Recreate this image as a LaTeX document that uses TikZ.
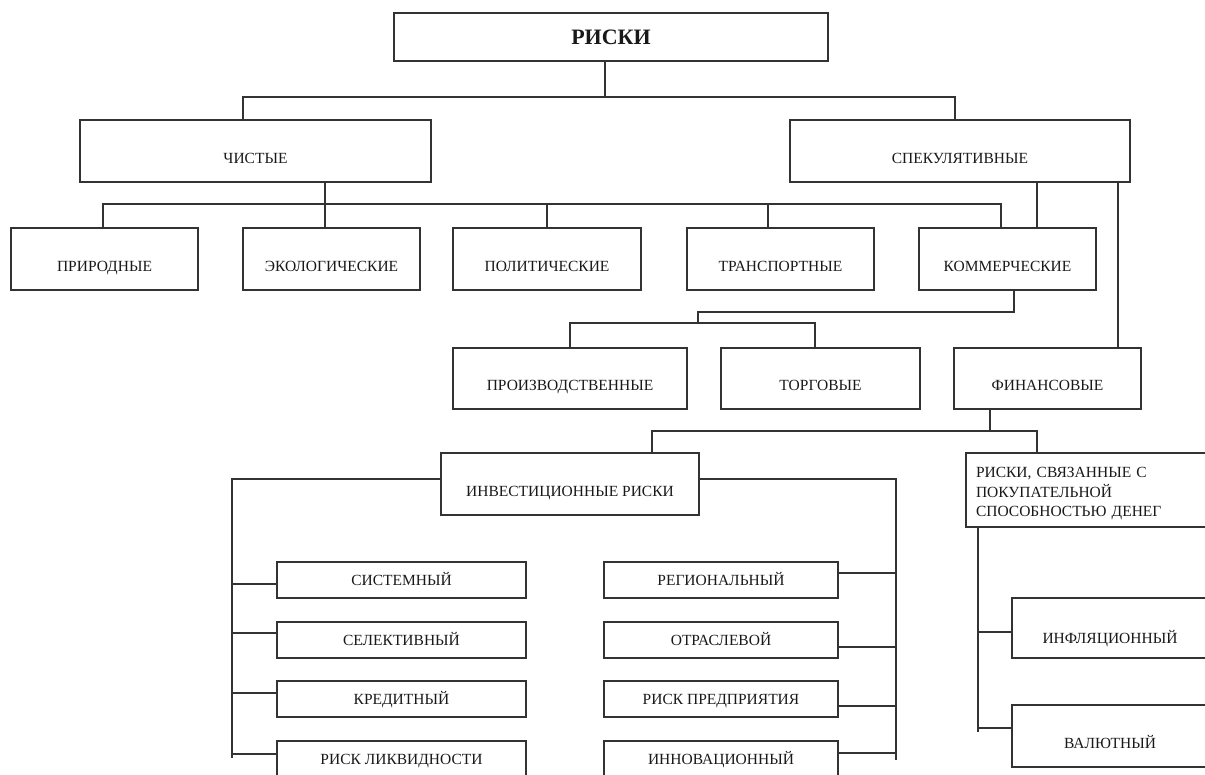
\documentclass[tikz,border=0pt]{standalone}
\usepackage{fontspec}
\setmainfont{Liberation Serif}
\begin{document}
\begin{tikzpicture}[x=1pt,y=-1pt,
  box/.style={draw=black!80, line width=1.4pt, rectangle, inner sep=0pt,
    font=\fontsize{15.5}{19}\selectfont, text=black!90},
  tallbox/.style={box, minimum height=62pt, text height=24pt, text depth=0pt},
  smallbox/.style={box, minimum height=36pt, text height=10.3pt, text depth=0pt},
  conn/.style={draw=black!80, line width=1.6pt}
]
\useasboundingbox (0,0) rectangle (1205,774);
\clip (0,0) rectangle (1205,774);

% boxes
\node[box, minimum width=434pt, minimum height=48pt,
  font=\fontsize{22}{26}\selectfont\bfseries, text height=14.6pt, text depth=0pt] (R) at (611,37) {РИСКИ};
\node[tallbox, minimum width=351pt] (ch) at (255.5,151) {ЧИСТЫЕ};
\node[tallbox, minimum width=340pt] (sp) at (960,151) {СПЕКУЛЯТИВНЫЕ};

\node[tallbox, minimum width=187pt] (pr) at (104.5,259) {ПРИРОДНЫЕ};
\node[tallbox, minimum width=177pt] (ek) at (331.5,259) {ЭКОЛОГИЧЕСКИЕ};
\node[tallbox, minimum width=188pt] (po) at (547,259) {ПОЛИТИЧЕСКИЕ};
\node[tallbox, minimum width=187pt] (tr) at (780.5,259) {ТРАНСПОРТНЫЕ};
\node[tallbox, minimum width=177pt] (ko) at (1007.5,259) {КОММЕРЧЕСКИЕ};

\node[tallbox, minimum width=234pt, minimum height=61pt] (pz) at (570,378.5) {ПРОИЗВОДСТВЕННЫЕ};
\node[tallbox, minimum width=199pt, minimum height=61pt] (tg) at (820.5,378.5) {ТОРГОВЫЕ};
\node[tallbox, minimum width=187pt, minimum height=61pt] (fi) at (1047.5,378.5) {ФИНАНСОВЫЕ};

\node[tallbox, minimum width=258pt] (inv) at (570,484) {ИНВЕСТИЦИОННЫЕ РИСКИ};
\node[box, minimum width=244pt, minimum height=74pt, inner xsep=10pt,
  text width=224pt, align=left, text height=18pt, font=\fontsize{15.5}{19.5}\selectfont] (pk) at (1088,490)
  {РИСКИ, СВЯЗАННЫЕ С\\ПОКУПАТЕЛЬНОЙ\\СПОСОБНОСТЬЮ ДЕНЕГ};

\node[smallbox, minimum width=249pt] (l1) at (401.5,580) {СИСТЕМНЫЙ};
\node[smallbox, minimum width=249pt] (l2) at (401.5,640) {СЕЛЕКТИВНЫЙ};
\node[smallbox, minimum width=249pt] (l3) at (401.5,699) {КРЕДИТНЫЙ};
\node[smallbox, minimum width=249pt] (l4) at (401.5,759) {РИСК ЛИКВИДНОСТИ};

\node[smallbox, minimum width=234pt] (r1) at (721,580) {РЕГИОНАЛЬНЫЙ};
\node[smallbox, minimum width=234pt] (r2) at (721,640) {ОТРАСЛЕВОЙ};
\node[smallbox, minimum width=234pt] (r3) at (721,699) {РИСК ПРЕДПРИЯТИЯ};
\node[smallbox, minimum width=234pt] (r4) at (721,759) {ИННОВАЦИОННЫЙ};

\node[tallbox, minimum width=196pt, minimum height=60pt, text height=30pt] (inf) at (1110,628) {ИНФЛЯЦИОННЫЙ};
\node[tallbox, minimum width=196pt] (val) at (1110,736) {ВАЛЮТНЫЙ};

% level 1
\coordinate (a0) at (605,97);
\coordinate (a1) at (243,97);
\coordinate (a2) at (955,97);
\draw[conn] (R.south -| a0) -- (a0);
\draw[conn] (ch.north -| a1) |- (a2) -- (sp.north -| a2);

% level 2
\coordinate (b0) at (325,204);
\coordinate (b1) at (547,204);
\coordinate (b2) at (768,204);
\coordinate (bL) at (103,204);
\coordinate (bR) at (1001,204);
\draw[conn] (ch.south -| b0) -- (ek.north -| b0);
\draw[conn] (pr.north -| bL) |- (bR) -- (ko.north -| bR);
\draw[conn] (b1) -- (po.north -| b1);
\draw[conn] (b2) -- (tr.north -| b2);

% from speculative
\coordinate (c1) at (1037,0);
\coordinate (c2) at (1118,0);
\draw[conn] (sp.south -| c1) -- (ko.north -| c1);
\draw[conn] (sp.south -| c2) -- (fi.north -| c2);

% from commercial
\coordinate (d0) at (1014,312);
\coordinate (d1) at (698,312);
\coordinate (d2) at (698,323);
\coordinate (dL) at (570,323);
\coordinate (dR) at (815,323);
\draw[conn] (ko.south -| d0) -- (d0) -- (d1) -- (d2);
\draw[conn] (pz.north -| dL) |- (dR) -- (tg.north -| dR);

% from financial
\coordinate (e0) at (990,431);
\coordinate (eL) at (652,431);
\coordinate (eR) at (1037,431);
\draw[conn] (fi.south -| e0) -- (e0);
\draw[conn] (inv.north -| eL) |- (eR) -- (pk.north -| eR);

% investment buses
\coordinate (fL) at (232,479);
\coordinate (fLb) at (232,758);
\coordinate (fR) at (896,479);
\coordinate (fRb) at (896,760);
\draw[conn] (inv.west |- fL) -- (fL) -- (fLb);
\draw[conn] (inv.east |- fR) -- (fR) -- (fRb);
\foreach \n/\y in {l1/584,l2/633,l3/693,l4/754}{
  \coordinate (t) at (232,\y);
  \draw[conn] (t) -- (\n.west |- t);
}
\foreach \n/\y in {r1/573,r2/647,r3/706,r4/753}{
  \coordinate (t) at (896,\y);
  \draw[conn] (\n.east |- t) -- (t);
}

% purchasing power bus
\coordinate (g0) at (978,0);
\coordinate (gb) at (978,732);
\coordinate (g1) at (978,632);
\coordinate (g2) at (978,728);
\draw[conn] (pk.south -| g0) -- (gb);
\draw[conn] (g1) -- (inf.west |- g1);
\draw[conn] (g2) -- (val.west |- g2);
\end{tikzpicture}
\end{document}
